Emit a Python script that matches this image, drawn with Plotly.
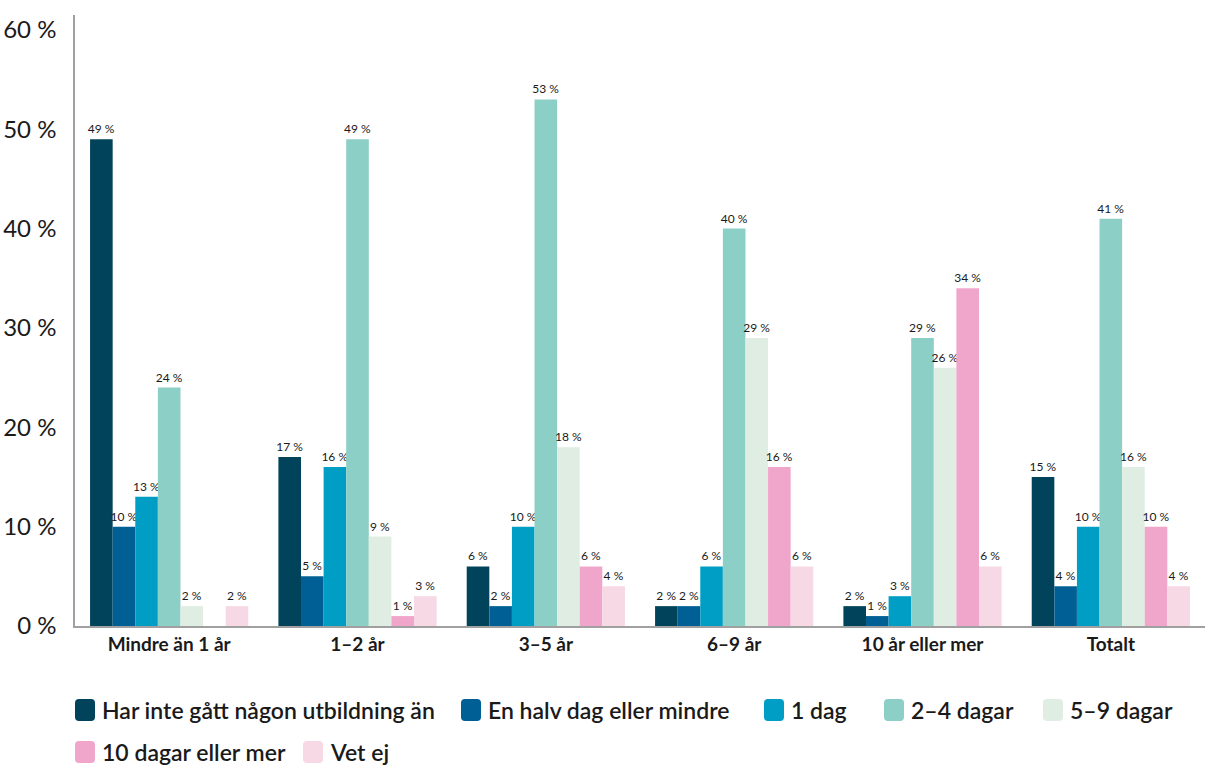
import plotly.graph_objects as go

categories = ["Mindre än 1 år", "1–2 år", "3–5 år", "6–9 år", "10 år eller mer", "Totalt"]

series_names = [
    "Har inte gått någon utbildning än",
    "En halv dag eller mindre",
    "1 dag",
    "2–4 dagar",
    "5–9 dagar",
    "10 dagar eller mer",
    "Vet ej",
]

har_inte = [49, 17, 6, 2, 2, 15]
halv_dag = [10, 5, 2, 2, 1, 4]
en_dag = [13, 16, 10, 6, 3, 10]
two_four = [24, 49, 53, 40, 29, 41]
five_nine = [2, 9, 18, 29, 26, 16]
ten_plus = [None, 1, 6, 16, 34, 10]
vet_ej = [2, 3, 4, 6, 6, 4]

series_values = [har_inte, halv_dag, en_dag, two_four, five_nine, ten_plus, vet_ej]
colors = ["#00435a", "#005f94", "#009ec4", "#8ccfc6", "#dfede3", "#f0a6cb", "#f7d8e5"]

y_ticks = [0, 10, 20, 30, 40, 50, 60]
y_ticktext = [f"{v} %" for v in y_ticks]

FONT = "Lato"
TEXT = "#1a1a1a"

fig = go.Figure()
for name, vals, col in zip(series_names, series_values, colors):
    fig.add_trace(go.Bar(
        x=categories, y=vals, name=name, marker_color=col, marker_line_width=0,
        text=[f"{v} %" if v is not None else "" for v in vals],
        textposition="outside", constraintext="none",
        textfont=dict(family=FONT, size=12, color=TEXT),
        cliponaxis=False, showlegend=False,
    ))

# plot area in pixels
W, H = 1206, 767
L, R, T, B = 75, 1, 15, 141
PW, PH = W - L - R, H - T - B


def px_x(x):
    return (x - L) / PW


def px_y(y):
    return (H - B - y) / PH


def rounded_rect(x0, y0, x1, y1, r):
    rx, ry = r / PW, r / PH
    a, b, c, d = px_x(x0), px_y(y1), px_x(x1), px_y(y0)
    return (f"M {a+rx},{b} L {c-rx},{b} Q {c},{b} {c},{b+ry} L {c},{d-ry} Q {c},{d} {c-rx},{d} "
            f"L {a+rx},{d} Q {a},{d} {a},{d-ry} L {a},{b+ry} Q {a},{b} {a+rx},{b} Z")


# legend rows: (marker left x, row centre y)
legend_pos = [(75, 710), (461, 710), (764, 710), (884, 710), (1043, 710), (75, 752), (303, 752)]
shapes, annotations = [], []
for (lx, cy), name, col in zip(legend_pos, series_names, colors):
    shapes.append(dict(type="path", xref="paper", yref="paper",
                       path=rounded_rect(lx, cy - 11, lx + 20, cy + 11, 4),
                       fillcolor=col, line=dict(width=0)))
    annotations.append(dict(xref="paper", yref="paper", x=px_x(lx + 25), y=px_y(cy),
                            xanchor="left", yanchor="middle", text=name, showarrow=False,
                            font=dict(family=FONT, size=23, color=TEXT, weight=600)))

fig.update_layout(
    width=W, height=H,
    margin=dict(l=L, r=R, t=T, b=B),
    paper_bgcolor="white", plot_bgcolor="white",
    barmode="group", bargap=0.16, bargroupgap=0,
    font=dict(family=FONT, color=TEXT),
    shapes=shapes, annotations=annotations,
    xaxis=dict(showline=True, linecolor="#a0a0a0", linewidth=1.5, showgrid=False,
               ticks="", tickfont=dict(family=FONT, size=19, color=TEXT, weight=700)),
    yaxis=dict(range=[0, 61.5], showline=True, linecolor="#a0a0a0", linewidth=1.5,
               showgrid=False, zeroline=False, ticks="", tickvals=y_ticks,
               ticktext=y_ticktext, ticklabelstandoff=12,
               tickfont=dict(family=FONT, size=24, color=TEXT)),
)

fig.write_html("out.html")
